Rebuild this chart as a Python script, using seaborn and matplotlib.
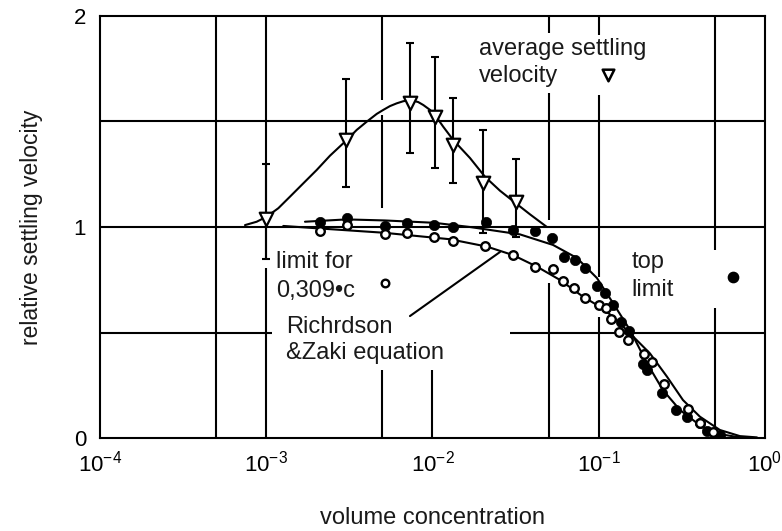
import numpy as np
import pandas as pd
import seaborn as sns
import matplotlib.pyplot as plt
from matplotlib.ticker import FixedLocator, NullLocator

# average settling velocity (triangles) with error bars
avg_conc = [0.001, 0.003, 0.0073, 0.0103, 0.0133, 0.0202, 0.0318]
avg_vel = [1.04, 1.41, 1.59, 1.52, 1.39, 1.21, 1.12]
avg_hi = [1.30, 1.70, 1.87, 1.805, 1.61, 1.46, 1.32]
avg_lo = [0.85, 1.19, 1.35, 1.28, 1.21, 0.97, 0.954]

# fitted curve through the averages
avg_fit_conc = [7.45e-4, 8.76e-4, 1.006e-3, 1.182e-3, 1.39e-3, 1.671e-3, 2.01e-3, 2.418e-3,
                3.048e-3, 3.50e-3, 4.02e-3, 4.62e-3, 5.06e-3, 5.55e-3, 6.09e-3, 6.67e-3,
                7.39e-3, 8.21e-3, 8.81e-3, 9.66e-3, 1.035e-2, 1.161e-2, 1.334e-2, 1.681e-2,
                2.07e-2, 2.547e-2, 3.18e-2, 3.86e-2, 4.86e-2]
avg_fit_vel = [1.009, 1.025, 1.049, 1.089, 1.144, 1.207, 1.270, 1.338,
               1.412, 1.460, 1.499, 1.536, 1.555, 1.573, 1.586, 1.596,
               1.602, 1.592, 1.578, 1.555, 1.531, 1.475, 1.412, 1.327,
               1.238, 1.172, 1.112, 1.060, 1.001]

# top limit (filled circles)
top_conc = [0.0021, 0.00305, 0.00518, 0.00699, 0.01021, 0.01328, 0.02098, 0.0305, 0.0413,
            0.0521, 0.0622, 0.0724, 0.083, 0.0976, 0.109, 0.1213, 0.136, 0.1527, 0.1838,
            0.1964, 0.2392, 0.2928, 0.338, 0.409, 0.446, 0.536]
top_vel = [1.025, 1.044, 1.005, 1.020, 1.009, 1.001, 1.022, 0.986, 0.981, 0.946, 0.858,
           0.845, 0.806, 0.720, 0.685, 0.630, 0.550, 0.507, 0.351, 0.320, 0.213, 0.135,
           0.100, 0.070, 0.033, 0.014]

# limit for 0,309*c (open circles)
lim_conc = [0.0021, 0.00305, 0.00518, 0.00699, 0.01021, 0.01328, 0.0207, 0.0305, 0.0413,
            0.0528, 0.061, 0.071, 0.0826, 0.1003, 0.1105, 0.1188, 0.132, 0.1506, 0.1879,
            0.2091, 0.2475, 0.3465, 0.4064, 0.4887]
lim_vel = [0.981, 1.009, 0.965, 0.970, 0.953, 0.935, 0.910, 0.867, 0.812, 0.800, 0.746,
           0.709, 0.664, 0.630, 0.615, 0.563, 0.504, 0.463, 0.400, 0.358, 0.256, 0.137,
           0.069, 0.030]

# Richardson & Zaki curves
top_fit_conc = [0.00171, 0.00304, 0.00518, 0.01021, 0.0168, 0.0336, 0.0531, 0.074, 0.0976,
                0.1218, 0.1542, 0.1951, 0.2435, 0.308, 0.39, 0.4866, 0.6787, 0.8707]
top_fit_vel = [1.025, 1.036, 1.031, 1.02, 1.0, 0.965, 0.915, 0.853, 0.758, 0.640, 0.512,
               0.355, 0.227, 0.133, 0.071, 0.024, 0.005, 0.0]
lim_fit_conc = [0.001266, 0.002011, 0.00506, 0.01274, 0.02127, 0.0305, 0.0425, 0.0585,
                0.0804, 0.1017, 0.1218, 0.1542, 0.2033, 0.2573, 0.3212, 0.4064, 0.536,
                0.7073, 0.895]
lim_fit_vel = [1.005, 0.994, 0.973, 0.942, 0.907, 0.867, 0.812, 0.749, 0.670, 0.622, 0.575,
               0.496, 0.401, 0.291, 0.180, 0.101, 0.038, 0.009, 0.003]

# pointer from the "Richrdson &Zaki equation" label to the curve
pointer_conc = [0.00732, 0.02547]
pointer_vel = [0.578, 0.8815]

x_ticks = [1e-4, 1e-3, 1e-2, 1e-1, 1e0]
x_tick_labels = ['$10^{-4}$', '$10^{-3}$', '$10^{-2}$', '$10^{-1}$', '$10^{0}$']
y_ticks = [0, 1, 2]

sns.set_theme(style='white')
plt.rcParams['font.family'] = ['Liberation Sans', 'DejaVu Sans']
plt.rcParams['mathtext.fontset'] = 'custom'
plt.rcParams['mathtext.rm'] = 'Liberation Sans'
plt.rcParams['mathtext.it'] = 'Liberation Sans:italic'
plt.rcParams['mathtext.bf'] = 'Liberation Sans:bold'

fig = plt.figure(figsize=(7.82, 5.31), dpi=100)
ax = fig.add_axes([0.1279, 0.1751, 0.8503, 0.7948])
ax.set_xscale('log')
ax.set_xlim(1e-4, 1e0)
ax.set_ylim(0, 2)

## Grid (broken where labels and data sit in the original)
glw = 1.5
v_segs = [(5e-4, 0, 2), (1e-3, 0.853, 2), (1e-3, 0, 0.806),
          (5e-3, 1.602, 2), (5e-3, 1.09, 1.531), (5e-3, 0, 0.322),
          (1e-2, 0, 0.322),
          (5e-2, 1.919, 2), (5e-2, 1.033, 1.635), (5e-2, 0, 0.735),
          (1e-1, 1.91, 2), (1e-1, 0.763, 1.626), (1e-1, 0, 0.573),
          (5e-1, 0.891, 2), (5e-1, 0, 0.616)]
for x, y0, y1 in v_segs:
    ax.vlines(x, y0, y1, color='black', lw=glw, zorder=1)
h_segs = [(1.5, 1e-4, 1), (1.0, 1e-4, 1), (0.5, 1e-4, 1.08e-3), (0.5, 0.0292, 1)]
for y, x0, x1 in h_segs:
    ax.hlines(y, x0, x1, color='black', lw=glw, zorder=1)

## Error bars
avg_vel_a = np.array(avg_vel)
yerr = [avg_vel_a - np.array(avg_lo), np.array(avg_hi) - avg_vel_a]
ax.errorbar(avg_conc, avg_vel, yerr=yerr, fmt='none', ecolor='black',
            elinewidth=1.5, capsize=2.6, capthick=1.5, zorder=2)

## Curves
for xs, ys in [(avg_fit_conc, avg_fit_vel), (top_fit_conc, top_fit_vel),
               (lim_fit_conc, lim_fit_vel), (pointer_conc, pointer_vel)]:
    sns.lineplot(x=xs, y=ys, ax=ax, sort=False, estimator=None, color='black',
                 lw=1.5, zorder=3)

## Markers
sns.scatterplot(x=avg_conc, y=avg_vel, ax=ax, marker='v', s=95, color='white',
                edgecolor='black', linewidth=1.6, zorder=5)
sns.scatterplot(x=top_conc, y=top_vel, ax=ax, marker='o', s=55, color='black',
                edgecolor='black', linewidth=0.5, zorder=4)
sns.scatterplot(x=lim_conc, y=lim_vel, ax=ax, marker='o', s=38, color='white',
                edgecolor='black', linewidth=1.7, zorder=5)

## Labels inside the plot
fs = 17
tc = '#1a1a1a'
ax.text(0.019, 1.815, 'average settling', fontsize=fs, color=tc)
ax.text(0.019, 1.687, 'velocity', fontsize=fs, color=tc)
ax.scatter([0.1136], [1.72], marker='v', s=70, color='white', edgecolor='black',
           linewidth=1.8, zorder=5)
ax.text(0.00114, 0.805, 'limit for', fontsize=fs, color=tc)
ax.text(0.00114, 0.670, '0,309\u2022c', fontsize=fs, color=tc)
ax.scatter([0.00518], [0.733], marker='o', s=30, color='white', edgecolor='black',
           linewidth=1.7, zorder=5)
ax.text(0.00131, 0.499, 'Richrdson', fontsize=fs, color=tc)
ax.text(0.00131, 0.373, '&Zaki equation', fontsize=fs, color=tc)
ax.text(0.1578, 0.806, 'top', fontsize=fs, color=tc)
ax.text(0.1578, 0.672, 'limit', fontsize=fs, color=tc)
ax.scatter([0.6447], [0.765], marker='o', s=55, color='black', zorder=5)

## Axes formatting
ax.xaxis.set_major_locator(FixedLocator(x_ticks))
ax.xaxis.set_minor_locator(NullLocator())
ax.set_xticklabels(x_tick_labels)
ax.set_yticks(y_ticks)
ax.set_yticklabels([str(v) for v in y_ticks])
ax.tick_params(axis='both', length=0, labelsize=16, colors='black')
ax.tick_params(axis='x', pad=9)
ax.tick_params(axis='y', pad=10)
for sp in ax.spines.values():
    sp.set_color('black')
    sp.set_linewidth(1.5)
ax.grid(False)
ax.set_xlabel('volume concentration', fontsize=17, labelpad=22, color=tc)
ax.set_ylabel('relative settling velocity', fontsize=16.5, labelpad=22, color=tc)

fig.savefig('out.png', dpi=100)
